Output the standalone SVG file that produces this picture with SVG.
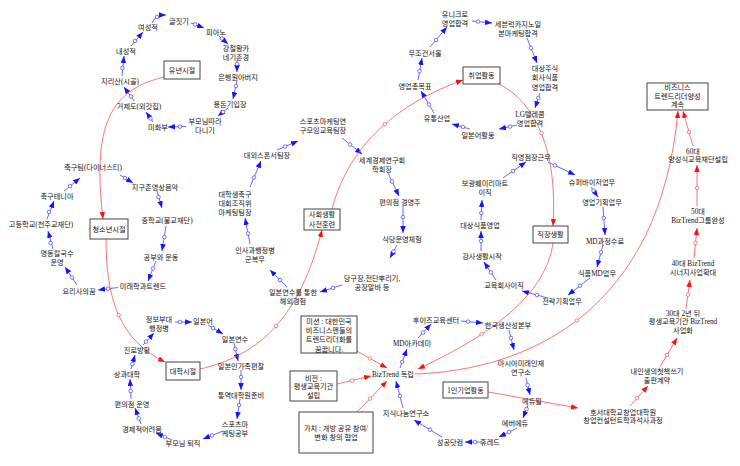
<svg xmlns="http://www.w3.org/2000/svg" width="740" height="466" viewBox="0 0 740 466">
<defs>
<marker id="ab" viewBox="0 0 10 8" refX="10" refY="4" markerWidth="7" markerHeight="5.6" markerUnits="userSpaceOnUse" orient="auto"><path d="M0,0 L10,4 L0,8 z" fill="#1414ff"/></marker>
<marker id="ar" viewBox="0 0 10 8" refX="10" refY="4" markerWidth="7" markerHeight="5.6" markerUnits="userSpaceOnUse" orient="auto"><path d="M0,0 L10,4 L0,8 z" fill="#ff1010"/></marker>
</defs>
<style>
.t{font-family:"Liberation Serif","Noto Sans CJK KR",serif;font-size:7.2px;fill:#111;text-anchor:middle}
.b{fill:none;stroke:#4040ff;stroke-width:0.8;marker-end:url(#ab)}
.r{fill:none;stroke:#ff5050;stroke-width:0.8;marker-end:url(#ar)}
.rn{fill:none;stroke:#ff5050;stroke-width:0.8}
.cb{fill:#fff;stroke:#4040ff;stroke-width:0.7}
.cr{fill:#fff;stroke:#ff5050;stroke-width:0.7}
.box{fill:#fff;stroke:#444;stroke-width:1}
</style>
<rect width="740" height="466" fill="#fff"/>
<g id="connectors">
<path class="b" d="M152,23 Q155,15 166,15"/><circle class="cb" cx="157" cy="17" r="1.8"/>
<path class="b" d="M191,23 L204,28"/><circle class="cb" cx="195" cy="24.5" r="1.8"/>
<path class="b" d="M219,36 L228,44"/><circle class="cb" cx="222" cy="38.5" r="1.8"/>
<path class="b" d="M237,61 L237,72"/><circle class="cb" cx="237" cy="64" r="1.8"/>
<path class="b" d="M237,81 L233,99"/><circle class="cb" cx="236" cy="86" r="1.8"/>
<path class="b" d="M228,108 L218,116"/><circle class="cb" cx="223" cy="112" r="1.8"/>
<path class="b" d="M186,126.5 L168,127"/><circle class="cb" cx="180" cy="126.7" r="1.8"/>
<path class="b" d="M153,122 L146,112"/><circle class="cb" cx="150.5" cy="118.5" r="1.8"/>
<path class="b" d="M134,101 L124,87"/><circle class="cb" cx="131" cy="96.5" r="1.8"/>
<path class="b" d="M122,76 L124,56"/><circle class="cb" cx="122.4" cy="68" r="1.8"/>
<path class="b" d="M131,46 L143,32"/><circle class="cb" cx="135" cy="41" r="1.8"/>

<path class="b" d="M120,175 L133,183"/><circle class="cb" cx="125" cy="178" r="1.8"/>
<path class="b" d="M157,191 L162,208"/><circle class="cb" cx="158.5" cy="197" r="1.8"/>
<path class="b" d="M166,226 L162,251"/><circle class="cb" cx="164.3" cy="237" r="1.8"/>
<path class="b" d="M156,261 L148,281"/><circle class="cb" cx="153" cy="268.5" r="1.8"/>
<path class="b" d="M118,287.5 L98,290"/><circle class="cb" cx="108" cy="288.7" r="1.8"/>
<path class="b" d="M77,285 L65,267"/><circle class="cb" cx="72" cy="277.5" r="1.8"/>
<path class="b" d="M53,249 L48,231"/><circle class="cb" cx="50.5" cy="243" r="1.8"/>
<path class="b" d="M47,219 L54,201"/><circle class="cb" cx="49" cy="212" r="1.8"/>
<path class="b" d="M64,191 L80,178"/><circle class="cb" cx="70" cy="186" r="1.8"/>

<path class="b" d="M175,322 L192,322"/><circle class="cb" cx="180" cy="322" r="1.8"/>
<path class="b" d="M208,325 L223,334"/><circle class="cb" cx="213" cy="328" r="1.8"/>
<path class="b" d="M234,343 L238,361"/><circle class="cb" cx="235.3" cy="349" r="1.8"/>
<path class="b" d="M241,370 L241,390"/><circle class="cb" cx="241" cy="377" r="1.8"/>
<path class="b" d="M240,399 L237,419"/><circle class="cb" cx="239" cy="405" r="1.8"/>
<path class="b" d="M223,431 L203,439"/><circle class="cb" cx="212" cy="435.4" r="1.8"/>
<path class="b" d="M172,440 L156,433"/><circle class="cb" cx="165" cy="437" r="1.8"/>
<path class="b" d="M141,424 L135,408"/><circle class="cb" cx="138.8" cy="418.5" r="1.8"/>
<path class="b" d="M131,399 L130,379"/><circle class="cb" cx="130.6" cy="391" r="1.8"/>
<path class="b" d="M131,369 L135,355"/><circle class="cb" cx="132.4" cy="364" r="1.8"/>
<path class="b" d="M143,345 L154,333"/><circle class="cb" cx="146" cy="341.5" r="1.8"/>

<path class="b" d="M342,138 L362,154"/><circle class="cb" cx="350" cy="144.5" r="1.8"/>
<path class="b" d="M277,150 L298,141"/><circle class="cb" cx="285" cy="146.5" r="1.8"/>
<path class="b" d="M250,187 L261,161"/><circle class="cb" cx="254" cy="177.5" r="1.8"/>
<path class="b" d="M250,244 L245,218"/><circle class="cb" cx="248" cy="233.5" r="1.8"/>
<path class="b" d="M287,287 L270,270"/><circle class="cb" cx="280" cy="280" r="1.8"/>
<path class="b" d="M342,285 L320,292"/><circle class="cb" cx="333" cy="287.9" r="1.8"/>
<path class="b" d="M397,245 L390,258"/><circle class="cb" cx="393.5" cy="251.5" r="1.8"/>
<path class="b" d="M403,206 L403,233"/><circle class="cb" cx="403" cy="217" r="1.8"/>
<path class="b" d="M388,173 L399,196"/><circle class="cb" cx="392" cy="181.4" r="1.8"/>

<path class="b" d="M472,21 L492,23"/><circle class="cb" cx="478" cy="21.6" r="1.8"/>
<path class="b" d="M527,38 L537,63"/><circle class="cb" cx="531" cy="48" r="1.8"/>
<path class="b" d="M540,93 L535,108"/><circle class="cb" cx="538.3" cy="98" r="1.8"/>
<path class="b" d="M517,125 L499,129"/><circle class="cb" cx="510" cy="126.6" r="1.8"/>
<path class="b" d="M470,129 L452,124"/><circle class="cb" cx="463" cy="127" r="1.8"/>
<path class="b" d="M434,113 L421,91"/><circle class="cb" cx="429" cy="104.5" r="1.8"/>
<path class="b" d="M418,80 L422,58"/><circle class="cb" cx="419.6" cy="71.2" r="1.8"/>
<path class="b" d="M430,47 L447,27"/><circle class="cb" cx="436" cy="40" r="1.8"/>

<path class="b" d="M548,162 L575,175"/><circle class="cb" cx="555" cy="165.4" r="1.8"/>
<path class="b" d="M591,187 L598,197"/><circle class="cb" cx="593.5" cy="190.5" r="1.8"/>
<path class="b" d="M603,207 L605,235"/><circle class="cb" cx="603.8" cy="218" r="1.8"/>
<path class="b" d="M603,245 L597,267"/><circle class="cb" cx="601" cy="252.3" r="1.8"/>
<path class="b" d="M590,278 L568,295"/><circle class="cb" cx="580" cy="285.7" r="1.8"/>
<path class="b" d="M548,298 L522,291"/><circle class="cb" cx="537" cy="295" r="1.8"/>
<path class="b" d="M496,280 L484,262"/><circle class="cb" cx="491" cy="272.5" r="1.8"/>
<path class="b" d="M481,251 L481,231"/><circle class="cb" cx="481" cy="241" r="1.8"/>
<path class="b" d="M481,220 L482,200"/><circle class="cb" cx="481.3" cy="213" r="1.8"/>
<path class="b" d="M503,178 L526,162"/><circle class="cb" cx="513" cy="171" r="1.8"/>

<path class="b" d="M400,368 L407,349"/><circle class="cb" cx="402.2" cy="362" r="1.8"/>
<path class="b" d="M418,338 L431,324"/><circle class="cb" cx="423" cy="332.6" r="1.8"/>
<path class="b" d="M461,321 L483,323"/><circle class="cb" cx="468" cy="321.6" r="1.8"/>
<path class="b" d="M509,330 L514,350"/><circle class="cb" cx="511" cy="338" r="1.8"/>
<path class="b" d="M526,378 L530,395"/><circle class="cb" cx="527.6" cy="385" r="1.8"/>
<path class="b" d="M528,405 L523,418"/><circle class="cb" cx="526.5" cy="409" r="1.8"/>
<path class="b" d="M517,428 L499,437"/><circle class="cb" cx="509" cy="432" r="1.8"/>
<path class="b" d="M481,442 L465,442"/><circle class="cb" cx="475" cy="442" r="1.8"/>
<path class="b" d="M442,437 L414,420"/><circle class="cb" cx="430" cy="429.7" r="1.8"/>
<path class="b" d="M403,408 L396,381"/><circle class="cb" cx="400" cy="396" r="1.8"/>

<path class="r" d="M164,77 C110,90 92,125 103,219"/>
<path class="r" d="M106,239 C106,300 120,340 165,362"/><circle class="cr" cx="118.6" cy="315" r="1.8"/>
<path class="r" d="M200,369 C262,355 300,315 322,230"/><circle class="cr" cx="276" cy="326" r="1.8"/>
<path class="r" d="M332,209 C345,160 380,110 463,80"/><circle class="cr" cx="384.8" cy="124.3" r="1.8"/>
<path class="r" d="M499,84 C535,102 558,150 553,226"/><circle class="cr" cx="541.4" cy="133" r="1.8"/>
<path class="r" d="M553,243 C545,300 480,340 418,369"/><circle class="cr" cx="481.6" cy="334.2" r="1.8"/>
<path class="r" d="M415,374 C530,370 660,310 678,111"/><circle class="cr" cx="577" cy="320.5" r="1.8"/>
<path class="r" d="M488,392 L578,408"/>
<path class="r" d="M630,406 L648,386"/><circle class="cr" cx="637" cy="398.2" r="1.8"/>
<path class="r" d="M660,367 L677,338"/><circle class="cr" cx="667" cy="355" r="1.8"/>
<path class="r" d="M686,309 L690,280"/><circle class="cr" cx="688" cy="294.5" r="1.8"/>
<path class="r" d="M694,258 L697,228"/><circle class="cr" cx="695.5" cy="243" r="1.8"/>
<path class="r" d="M697,206 L697,165"/><circle class="cr" cx="697" cy="188" r="1.8"/>
<path class="r" d="M693,146 L683,111"/><circle class="cr" cx="689" cy="132" r="1.8"/>
<path class="r" d="M355,350 L387,368"/><circle class="cr" cx="370" cy="358.4" r="1.8"/>
<path class="r" d="M337,384 L371,376"/><circle class="cr" cx="352" cy="380.5" r="1.8"/>
<path class="r" d="M357,412 L387,381"/><circle class="cr" cx="370" cy="398.6" r="1.8"/>
</g>

<g id="n-yunyeon"><rect class="box" x="164" y="61" width="36" height="18"/><text class="t" x="182" y="72.6">유년시절</text></g>
<g id="n-geuljitgi"><text class="t" x="179" y="23.6">글짓기</text></g>
<g id="n-piano"><text class="t" x="216" y="34.6">피아노</text></g>
<g id="n-carnegie"><text class="t" x="236" y="50.6"><tspan x="236">강철왕카</tspan><tspan x="236" dy="9">네기존경</tspan></text></g>
<g id="n-father"><text class="t" x="238" y="79.6">은행원아버지</text></g>
<g id="n-allowance"><text class="t" x="230" y="106.6">용돈기입장</text></g>
<g id="n-parents"><text class="t" x="205" y="123.6"><tspan x="205">부모님따라</tspan><tspan x="205" dy="9">다니기</tspan></text></g>
<g id="n-mihwabu"><text class="t" x="158" y="129.6">미화부</text></g>
<g id="n-geoje"><text class="t" x="139" y="108.6">거제도(외갓집)</text></g>
<g id="n-jiri"><text class="t" x="120" y="83.6">지리산(시골)</text></g>
<g id="n-intro"><text class="t" x="126" y="53.6">내성적</text></g>
<g id="n-fem"><text class="t" x="148" y="29.6">여성적</text></g>

<g id="n-cheongsonyeon"><rect class="box" x="90" y="219" width="38" height="20"/><text class="t" x="109" y="231.6">청소년시절</text></g>
<g id="n-soccer"><text class="t" x="93" y="169.6">축구팀(다이너스티)</text></g>
<g id="n-globe"><text class="t" x="155" y="189.6">지구촌영상음악</text></g>
<g id="n-middle"><text class="t" x="167" y="222.6">중학교(불교재단)</text></g>
<g id="n-study"><text class="t" x="161" y="259.6">공부와 운동</text></g>
<g id="n-future"><text class="t" x="143" y="288.6">미래학과트렌드</text></g>
<g id="n-cook"><text class="t" x="79" y="293.6">요리사의꿈</text></g>
<g id="n-myeongdong"><text class="t" x="57" y="255.6"><tspan x="57">명동칼국수</tspan><tspan x="57" dy="9">운영</tspan></text></g>
<g id="n-high"><text class="t" x="41" y="226.6">고등학교(천주교재단)</text></g>
<g id="n-mania"><text class="t" x="57" y="198.6">축구테니아</text></g>

<g id="n-daehak"><rect class="box" x="166" y="362" width="34" height="18"/><text class="t" x="183" y="373.6">대학시절</text></g>
<g id="n-army"><text class="t" x="159" y="321.6"><tspan x="159">정보부대</tspan><tspan x="159" dy="9">행정병</tspan></text></g>
<g id="n-japanese"><text class="t" x="203" y="323.6">일본어</text></g>
<g id="n-jptrain"><text class="t" x="235" y="341.6">일본연수</text></g>
<g id="n-jpfamily"><text class="t" x="241" y="368.6">일본인가족편찰</text></g>
<g id="n-interp"><text class="t" x="241" y="397.6">통역대학원준비</text></g>
<g id="n-sportsmk"><text class="t" x="235" y="426.6"><tspan x="235">스포츠마</tspan><tspan x="235" dy="9">케팅공부</tspan></text></g>
<g id="n-retire"><text class="t" x="183" y="445.6">부모님 퇴직</text></g>
<g id="n-hardship"><text class="t" x="142" y="431.6">경제적어려움</text></g>
<g id="n-store"><text class="t" x="132" y="406.6">편의점 운영</text></g>
<g id="n-commerce"><text class="t" x="127" y="376.6">상과대학</text></g>
<g id="n-wander"><text class="t" x="137" y="352.6">진로방황</text></g>

<g id="n-social"><rect class="box" x="304" y="209" width="36" height="21"/><text class="t" x="322" y="217"><tspan x="322">사회생활</tspan><tspan x="322" dy="9.5">사전훈련</tspan></text></g>
<g id="n-sportsres"><text class="t" x="323" y="123.6"><tspan x="323">스포츠마케팅연</tspan><tspan x="323" dy="9">구모임교육팀장</tspan></text></g>
<g id="n-sponsor"><text class="t" x="267" y="157.6">대외스폰서팀장</text></g>
<g id="n-unisoccer"><text class="t" x="235" y="196.6"><tspan x="235">대학생축구</tspan><tspan x="235" dy="9">대회조직위</tspan><tspan x="235" dy="9">마케팅팀장</tspan></text></g>
<g id="n-military"><text class="t" x="255" y="252.6"><tspan x="255">인사과행정병</tspan><tspan x="255" dy="9">군복무</tspan></text></g>
<g id="n-abroad"><text class="t" x="293" y="294.6"><tspan x="293">일본연수를 통한</tspan><tspan x="293" dy="9">해외경험</tspan></text></g>
<g id="n-parttime"><text class="t" x="372" y="280.6"><tspan x="372">당구장,전단뿌리기,</tspan><tspan x="372" dy="9">공장알바 등</tspan></text></g>
<g id="n-restaurant"><text class="t" x="402" y="241.6">식당운영체험</text></g>
<g id="n-owner"><text class="t" x="400" y="204.6">편의점 경영주</text></g>
<g id="n-econ"><text class="t" x="382" y="162.6"><tspan x="382">세계경제연구회</tspan><tspan x="382" dy="9">학회장</tspan></text></g>

<g id="n-job"><rect class="box" x="463" y="67" width="37" height="17"/><text class="t" x="481.5" y="78.1">취업활동</text></g>
<g id="n-uniqlo"><text class="t" x="455" y="16.6"><tspan x="455">유니크로</tspan><tspan x="455" dy="9">영업합격</tspan></text></g>
<g id="n-sevenluck"><text class="t" x="518" y="26.6"><tspan x="518">세븐럭카지노일</tspan><tspan x="518" dy="9">본마케팅합격</tspan></text></g>
<g id="n-daesang"><text class="t" x="545" y="70.6"><tspan x="545">대상주식</tspan><tspan x="545" dy="9.5">회사식품</tspan><tspan x="545" dy="9.5">영업합격</tspan></text></g>
<g id="n-lg"><text class="t" x="530" y="116.6"><tspan x="530">LG텔레콤</tspan><tspan x="530" dy="9">영업합격</tspan></text></g>
<g id="n-jpact"><text class="t" x="478" y="137.6">일본어활동</text></g>
<g id="n-retail"><text class="t" x="437" y="120.6">유통산업</text></g>
<g id="n-goal"><text class="t" x="415" y="88.6">영업총목표</text></g>
<g id="n-seoul"><text class="t" x="425" y="55.6">무조건서울</text></g>

<g id="n-work"><rect class="box" x="533" y="226" width="35" height="17"/><text class="t" x="550.5" y="237.1">직장생활</text></g>
<g id="n-manager"><text class="t" x="531" y="159.6">직영점장근무</text></g>
<g id="n-sv"><text class="t" x="592" y="184.6">슈퍼바이저업무</text></g>
<g id="n-salesplan"><text class="t" x="602" y="204.6">영업기획업무</text></g>
<g id="n-mdcourse"><text class="t" x="605" y="243.6">MD과정수료</text></g>
<g id="n-foodmd"><text class="t" x="597" y="275.6">식품MD업무</text></g>
<g id="n-strategy"><text class="t" x="562" y="303.6">전략기획업무</text></g>
<g id="n-educo"><text class="t" x="504" y="287.6">교육회사이직</text></g>
<g id="n-lecturer"><text class="t" x="482" y="258.6">강사생활시작</text></g>
<g id="n-dsfood"><text class="t" x="480" y="227.6">대상식품영업</text></g>
<g id="n-family"><text class="t" x="485" y="185.6"><tspan x="485">보광훼미리마트</tspan><tspan x="485" dy="9">이직</tspan></text></g>

<g id="n-biztrend"><text class="t" x="393" y="376.6">BizTrend 독립</text></g>
<g id="n-mdacademy"><text class="t" x="412" y="345.6">MD아카데미</text></g>
<g id="n-whois"><text class="t" x="436" y="322.6">후이즈교육센터</text></g>
<g id="n-kpc"><text class="t" x="508" y="327.6">한국생산성본부</text></g>
<g id="n-asia"><text class="t" x="521" y="365.6"><tspan x="521">아시아미래인재</tspan><tspan x="521" dy="9">연구소</tspan></text></g>
<g id="n-eduwill"><text class="t" x="532" y="403.6">에듀윌</text></g>
<g id="n-everedu"><text class="t" x="515" y="425.6">에버에듀</text></g>
<g id="n-hured"><text class="t" x="490" y="444.6">휴레드</text></g>
<g id="n-success"><text class="t" x="450" y="444.6">성공닷컴</text></g>
<g id="n-knowledge"><text class="t" x="406" y="415.6">지식나눔연구소</text></g>

<g id="n-mission"><rect class="box" x="301" y="316" width="56" height="37"/><text class="t" x="329" y="324"><tspan x="329">미션 : 대한민국</tspan><tspan x="329" dy="9.2">비즈니스맨들의</tspan><tspan x="329" dy="9.2">트렌드리더화를</tspan><tspan x="329" dy="9.2">꿈꿉니다.</tspan></text></g>
<g id="n-vision"><rect class="box" x="290" y="371" width="47" height="30"/><text class="t" x="313.5" y="380.6"><tspan x="313.5">비전 :</tspan><tspan x="313.5" dy="8.7">평생교육기관</tspan><tspan x="313.5" dy="8.7">설립</tspan></text></g>
<g id="n-value"><rect class="box" x="299" y="412" width="74" height="41"/><text class="t" x="336" y="430.6"><tspan x="336">가치 : 개방 공유 참여/</tspan><tspan x="336" dy="9">변화 창의 협업</tspan></text></g>
<g id="n-solo"><rect class="box" x="443" y="382" width="45" height="16"/><text class="t" x="465.5" y="392.6">1인기업활동</text></g>

<g id="n-hoseo"><text class="t" x="623" y="414.6"><tspan x="623">호서대학교창업대학원</tspan><tspan x="623" dy="8.5">창업컨설턴트학과석사과정</tspan></text></g>
<g id="n-book"><text class="t" x="657" y="373.6"><tspan x="657">내인생의첫책쓰기</tspan><tspan x="657" dy="9">출판계약</tspan></text></g>
<g id="n-30s"><text class="t" x="683" y="315.6"><tspan x="683">30대 2년 뒤</tspan><tspan x="683" dy="8.5">평생교육기관 BizTrend</tspan><tspan x="683" dy="8.5">사업화</tspan></text></g>
<g id="n-40s"><text class="t" x="693" y="265.6"><tspan x="693">40대 BizTrend</tspan><tspan x="693" dy="9">시너지사업확대</tspan></text></g>
<g id="n-50s"><text class="t" x="698" y="213.6"><tspan x="698">50대</tspan><tspan x="698" dy="9">BizTrend그룹완성</tspan></text></g>
<g id="n-60s"><text class="t" x="693" y="153.6"><tspan x="693">60대</tspan><tspan x="698" dy="8.5">양성식교육재단설립</tspan></text></g>
<g id="n-goalbox"><rect class="box" x="647" y="83" width="61" height="27"/><text class="t" x="677.5" y="90"><tspan x="677.5">비즈니스</tspan><tspan x="677.5" dy="8.7">트렌드리더양성</tspan><tspan x="677.5" dy="8.7">계속</tspan></text></g>
</svg>
